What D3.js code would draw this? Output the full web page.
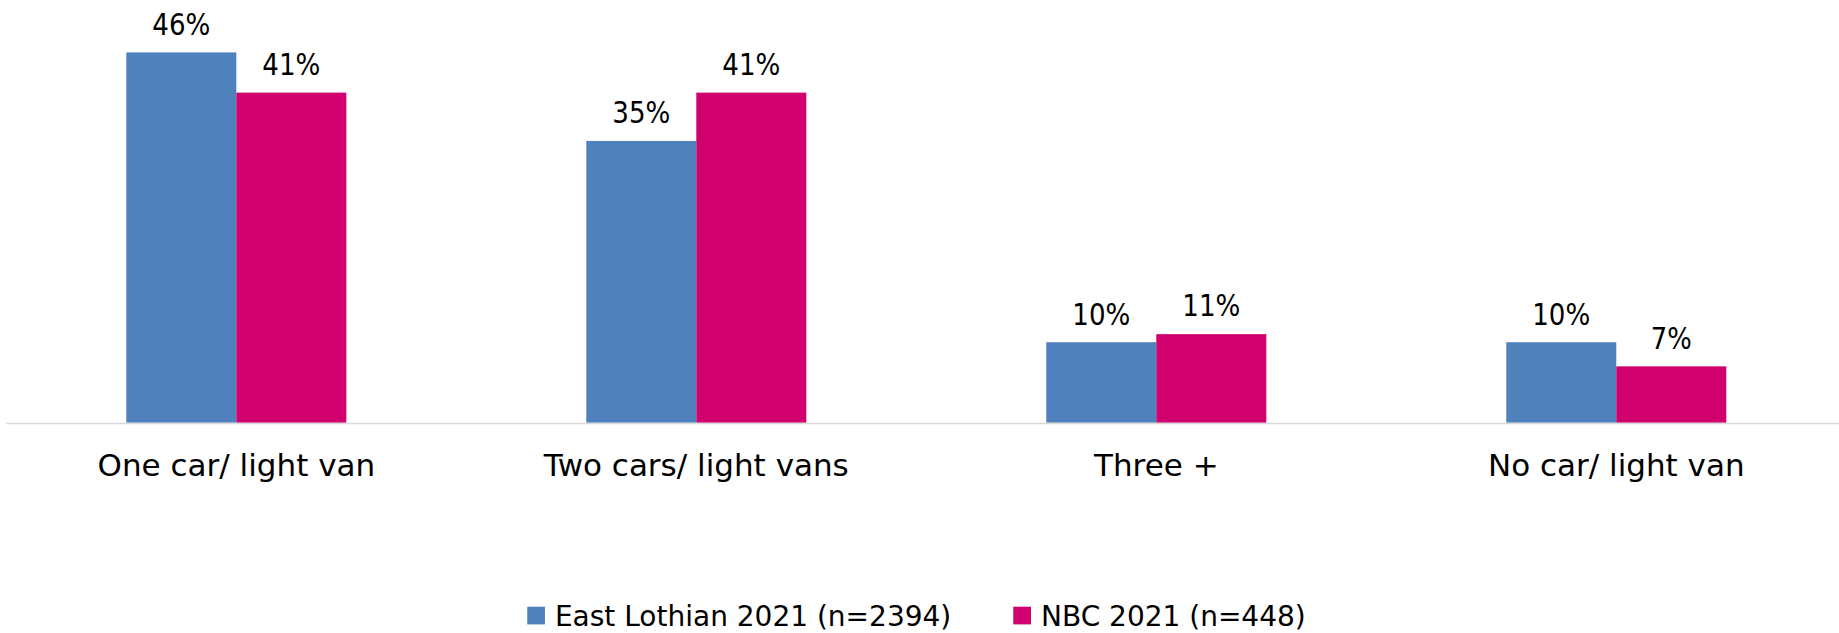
<!DOCTYPE html>
<html>
<head>
<meta charset="utf-8">
<script src="https://cdn.jsdelivr.net/npm/d3@7"></script>
<style>
  html, body { margin: 0; padding: 0; background: #ffffff; }
  svg { display: block; }
  text { font-family: "DejaVu Sans", sans-serif; fill: #000000; }
</style>
</head>
<body>
<svg id="chart" width="1839" height="633"></svg>
<script>
const categories = ["One car/ light van", "Two cars/ light vans", "Three +", "No car/ light van"];
const seriesNames = ["East Lothian 2021 (n=2394)", "NBC 2021 (n=448)"];
const eastLothian = [46, 35, 10, 10];
const nbc = [41, 41, 11, 7];
const seriesColors = ["#4f81bd", "#d0006f"];

const seriesValues = [eastLothian, nbc];
const W = 1839, H = 633;
const baseY = 422.7;
const pxPerUnit = 8.05;

const svg = d3.select("#chart");

const x0 = d3.scaleBand()
  .domain(categories)
  .range([6.3, 1846.3])
  .paddingInner(0.5217)
  .paddingOuter(0.2609);

const x1 = d3.scaleBand()
  .domain(seriesNames)
  .range([0, x0.bandwidth()])
  .padding(0);

const y = d3.scaleLinear()
  .domain([0, 50])
  .range([baseY, baseY - 50 * pxPerUnit]);

const rows = [];
categories.forEach((c, i) => {
  seriesNames.forEach((s, j) => {
    rows.push({ cat: c, series: s, value: seriesValues[j][i], color: seriesColors[j] });
  });
});

// bars
svg.append("g").selectAll("rect")
  .data(rows)
  .join("rect")
  .attr("x", d => x0(d.cat) + x1(d.series))
  .attr("y", d => y(d.value))
  .attr("width", x1.bandwidth())
  .attr("height", d => y(0) - y(d.value))
  .attr("fill", d => d.color);

// value labels
svg.append("g").selectAll("text")
  .data(rows)
  .join("text")
  .attr("x", d => x0(d.cat) + x1(d.series) + x1.bandwidth() / 2)
  .attr("y", d => y(d.value) - 17.7)
  .attr("text-anchor", "middle")
  .attr("font-size", "30px")
  .attr("textLength", d => String(d.value).length * 17 + 24)
  .attr("lengthAdjust", "spacingAndGlyphs")
  .text(d => d.value + "%");

// x axis
const xAxis = d3.axisBottom(x0).tickSize(0).tickPadding(0);
const gx = svg.append("g")
  .attr("transform", `translate(0,${y(0)})`)
  .call(xAxis);
gx.select(".domain").remove();
gx.append("line")
  .attr("x1", 6).attr("x2", W)
  .attr("y1", 0.8).attr("y2", 0.8)
  .attr("stroke", "#d9d9d9")
  .attr("stroke-width", 1.7);
gx.selectAll(".tick text")
  .attr("y", 0)
  .attr("dy", 0)
  .attr("transform", "translate(0,53)")
  .attr("font-size", "31px")
  .attr("font-family", "DejaVu Sans, sans-serif")
  .attr("fill", "#000000");

// legend
const legend = svg.append("g");
const items = legend.selectAll("g")
  .data(seriesNames)
  .join("g");
items.append("rect")
  .attr("width", 17.7)
  .attr("height", 17.7)
  .attr("y", 606.7)
  .attr("fill", (d, i) => seriesColors[i]);
items.append("text")
  .attr("x", 27.7)
  .attr("y", 625.7)
  .attr("font-size", "28px")
  .text(d => d);

let cursor = 0;
const positions = [];
items.each(function () {
  const tw = d3.select(this).select("text").node().getComputedTextLength();
  positions.push(cursor);
  cursor += 27.7 + tw + 62;
});
const totalW = cursor - 62;
const startX = W / 2 - totalW / 2 - 3;
items.attr("transform", (d, i) => `translate(${startX + positions[i]},0)`);
</script>
</body>
</html>
